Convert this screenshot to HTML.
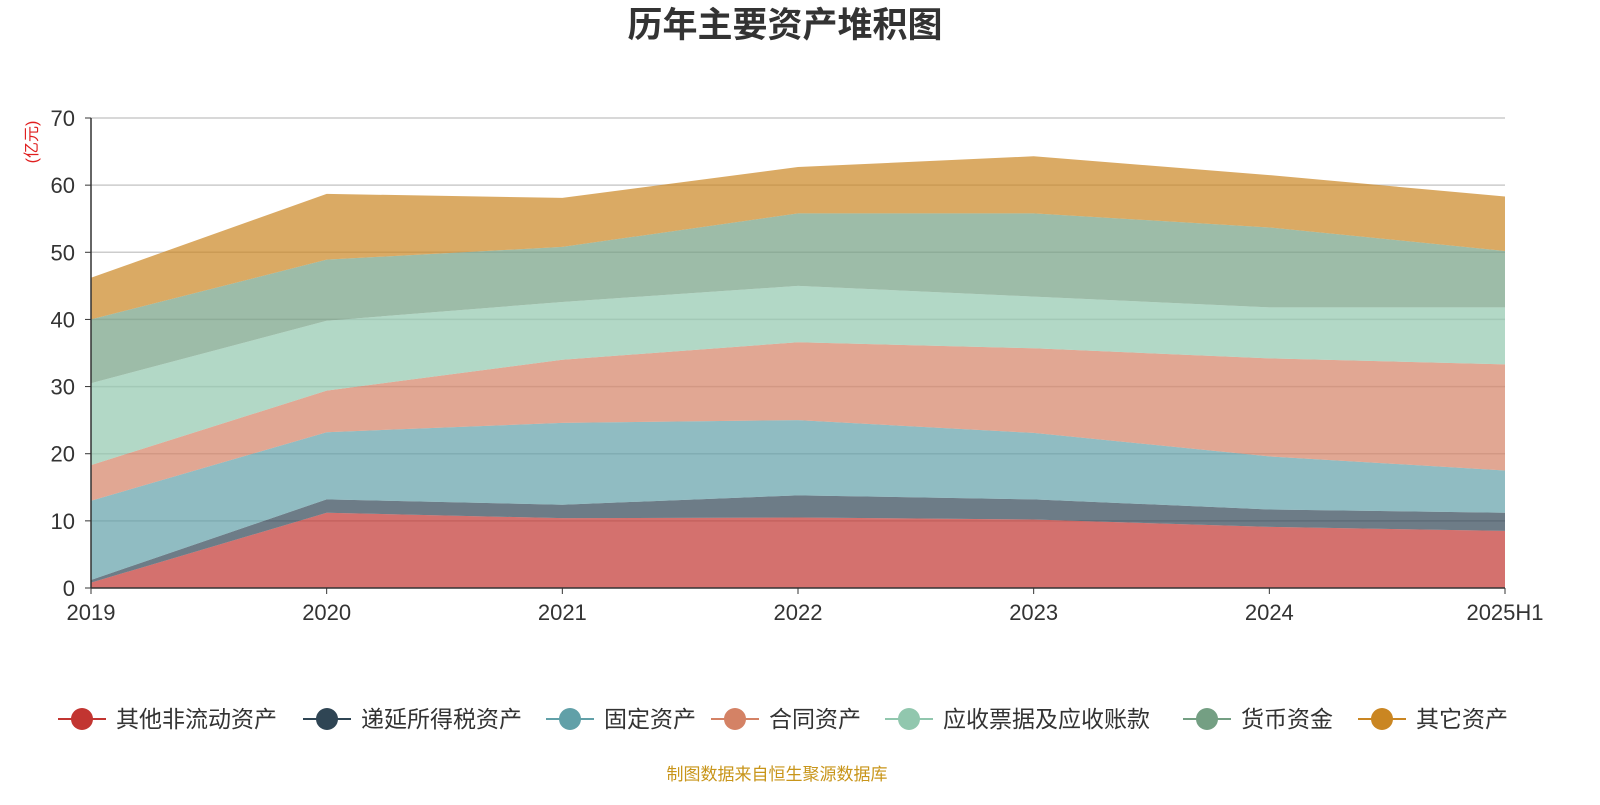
<!DOCTYPE html>
<html><head><meta charset="utf-8"><style>
body{margin:0;background:#fff;font-family:"Liberation Sans","Noto Sans CJK SC",sans-serif}
</style></head><body>
<svg id="chart" width="1600" height="800" xmlns="http://www.w3.org/2000/svg">
<text x="785" y="37" text-anchor="middle" font-size="35" font-weight="bold" fill="#333" font-family="Liberation Sans,Noto Sans CJK SC,sans-serif">历年主要资产堆积图</text>
<text transform="translate(37,142) rotate(-90)" text-anchor="middle" font-size="16" fill="#e02020" font-family="Liberation Sans,Noto Sans CJK SC,sans-serif">(亿元)</text>
<g id="grid"></g><g id="areas"></g><g id="axes"></g><g id="legend"></g>
<text x="777" y="780" text-anchor="middle" font-size="17" fill="#c8951a" font-family="Liberation Sans,Noto Sans CJK SC,sans-serif">制图数据来自恒生聚源数据库</text>
</svg>
<script>
const categories=["2019","2020","2021","2022","2023","2024","2025H1"];
const yTicks=[0,10,20,30,40,50,60,70];
const seriesNames=["其他非流动资产","递延所得税资产","固定资产","合同资产","应收票据及应收账款","货币资金","其它资产"];
const sOtherNonCurrent=[0.8,11.2,10.4,10.5,10.2,9.1,8.5];
const sDeferredTax=[0.4,2.0,2.0,3.3,3.0,2.6,2.7];
const sFixed=[11.8,10.0,12.2,11.2,9.9,7.9,6.3];
const sContract=[5.3,6.2,9.4,11.6,12.6,14.6,15.8];
const sReceivable=[12.2,10.4,8.6,8.4,7.7,7.6,8.5];
const sCash=[9.5,9.1,8.2,10.8,12.4,11.9,8.4];
const sOther=[6.2,9.8,7.3,6.9,8.5,7.8,8.1];
const series=[sOtherNonCurrent,sDeferredTax,sFixed,sContract,sReceivable,sCash,sOther];
const colors=["#c23531","#2f4554","#61a0a8","#d48265","#91c7ae","#749f83","#ca8622"];
const X0=91,X1=1505,Y0=588,Y1=118,YMAX=70;
const x=i=>X0+(X1-X0)*i/(categories.length-1);
const y=v=>Y0-(Y0-Y1)*v/YMAX;
const NS="http://www.w3.org/2000/svg";
function mk(tag,attrs,parent){const e=document.createElementNS(NS,tag);for(const k in attrs)e.setAttribute(k,attrs[k]);parent.appendChild(e);return e;}
const grid=document.getElementById('grid'),axes=document.getElementById('axes'),areas=document.getElementById('areas'),legend=document.getElementById('legend');
yTicks.forEach(t=>{
 if(t>0){const l=mk('line',{x1:X0,x2:X1,y1:y(t),y2:y(t),stroke:'#ccc','stroke-width':1.5},grid);
 
 }
 const tx=mk('text',{x:X0-16,y:y(t)+8,'text-anchor':'end','font-size':22,fill:'#333'},axes);tx.textContent=t;
 
 
 mk('line',{x1:X0-6,x2:X0,y1:y(t),y2:y(t),stroke:'#333'},axes);
});
let cum=categories.map(()=>0);
series.forEach((s,si)=>{
 const lo=cum.slice();const hi=cum.map((c,i)=>c+s[i]);cum=hi;
 let d="M"+hi.map((v,i)=>x(i)+","+y(v)).join(" L");
 for(let i=lo.length-1;i>=0;i--)d+=" L"+x(i)+","+y(lo[i]);d+="Z";
 const p=mk('path',{d:d,fill:colors[si],'fill-opacity':0.7,stroke:'none'},areas);
 
 
});
mk('line',{x1:X0,x2:X0,y1:Y1,y2:Y0,stroke:'#333','stroke-width':1.5},axes);
mk('line',{x1:X0,x2:X1,y1:Y0,y2:Y0,stroke:'#333','stroke-width':1.5},axes);
categories.forEach((c,i)=>{
 mk('line',{x1:x(i),x2:x(i),y1:Y0,y2:Y0+6,stroke:'#333'},axes);
 const t=mk('text',{x:x(i),y:Y0+32,'text-anchor':'middle','font-size':22,fill:'#333'},axes);t.textContent=c;
 
 
});
const lx=[58,303,546,711,885,1183,1358];
seriesNames.forEach((n,i)=>{
 const g=mk('g',{},legend);
 
 
 mk('line',{x1:lx[i],x2:lx[i]+48,y1:719,y2:719,stroke:colors[i],'stroke-width':2},g);
 mk('circle',{cx:lx[i]+24,cy:719,r:11,fill:colors[i]},g);
 const t=mk('text',{x:lx[i]+58,y:727,'font-size':23,fill:'#333'},g);t.textContent=n;
});
</script>
</body></html>
